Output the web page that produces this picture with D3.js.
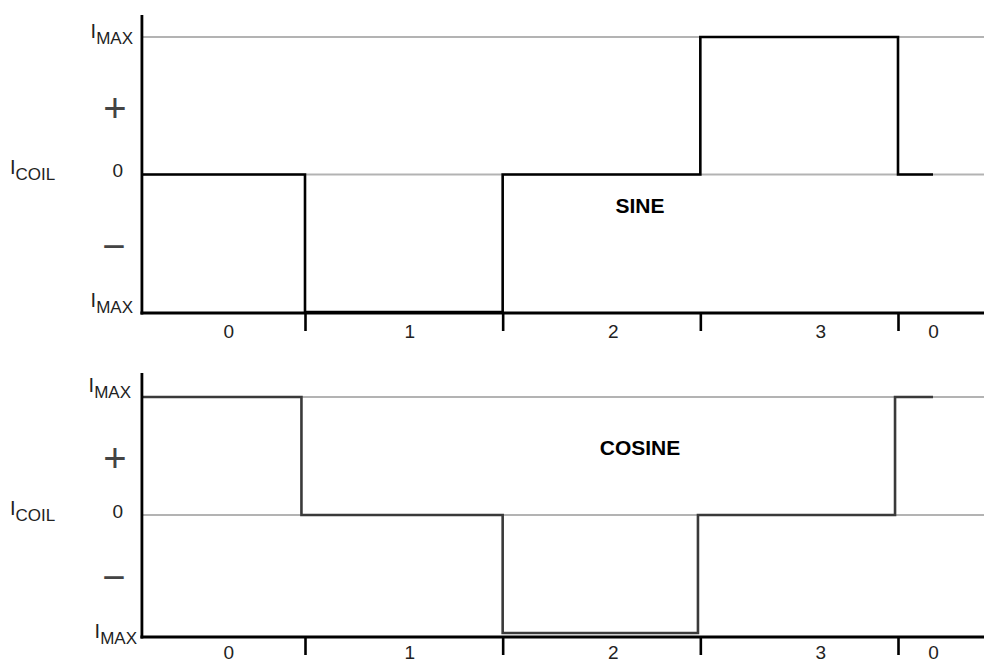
<!DOCTYPE html>
<html>
<head>
<meta charset="utf-8">
<script src="https://cdn.jsdelivr.net/npm/d3@7"></script>
<style>
  body { margin: 0; background: #fff; }
  svg text { font-family: "Liberation Sans", Arial, sans-serif; }
</style>
</head>
<body>
<svg id="chart" width="984" height="662"></svg>
<script>
// step boundaries (in step units) and the step numbers written under the axis
var boundaries = [1, 2, 3, 4];
var stepLabels = ["0", "1", "2", "3", "0"];
var stepLabelPos = [0.615, 1.53, 2.56, 3.61, 4.18];

// coil current, [position, level] with level in units of IMAX
var sineSteps = [[0.175, 0], [1, -1], [2, 0], [3, 1], [4, 0], [4.177, 0]];
var cosineSteps = [[0.175, 1], [0.982, 0], [2, -1], [2.988, 0], [3.985, 1], [4.177, 1]];

var gridLevels = [1, 0];

var W = 984;
var svg = d3.select("#chart");

var x = d3.scaleLinear().domain([1, 4]).range([305, 898]);

var panels = [
  { name: "SINE", data: sineSteps, color: "#000", range: [312, 37], axisY: 313, axisTop: 15,
    imaxTop: 1, imaxBot: -5, imaxBotX: 133, imaxTopX: 133, titleY: 213, labelDy: 25 },
  { name: "COSINE", data: cosineSteps, color: "#3a3a3a", range: [633, 397], axisY: 637, axisTop: 373,
    imaxTop: -5, imaxBot: 5, imaxBotX: 137, imaxTopX: 131, titleY: 455, labelDy: 22 }
];

panels.forEach(function(p) {
  var y = d3.scaleLinear().domain([-1, 1]).range(p.range);
  var g = svg.append("g");

  // grid lines at +IMAX and 0
  g.selectAll("line.grid")
    .data(gridLevels).enter()
    .append("line")
      .attr("class", "grid")
      .attr("x1", x(0.175)).attr("x2", W)
      .attr("y1", function(d) { return y(d); })
      .attr("y2", function(d) { return y(d); })
      .attr("stroke", "#b3b3b3")
      .attr("stroke-width", 2);

  // waveform
  var line = d3.line()
    .x(function(d) { return x(d[0]); })
    .y(function(d) { return y(d[1]); })
    .curve(d3.curveStepAfter);
  g.append("path")
    .datum(p.data)
    .attr("d", line)
    .attr("fill", "none")
    .attr("stroke", p.color)
    .attr("stroke-width", 2.6);

  // x axis: ticks only, the domain line drawn by hand
  var xAxis = d3.axisBottom(x).tickValues(boundaries).tickSize(18).tickFormat("");
  var ax = g.append("g")
    .attr("transform", "translate(0," + p.axisY + ")")
    .call(xAxis);
  ax.select(".domain").remove();
  ax.selectAll(".tick line").attr("stroke", "#000").attr("stroke-width", 2.6);

  g.append("line")
    .attr("x1", x(0.175) - 1.5).attr("x2", W)
    .attr("y1", p.axisY).attr("y2", p.axisY)
    .attr("stroke", "#000").attr("stroke-width", 3);

  // y axis line
  g.append("line")
    .attr("x1", x(0.175)).attr("x2", x(0.175))
    .attr("y1", p.axisTop).attr("y2", p.axisY + 1.5)
    .attr("stroke", "#000").attr("stroke-width", 2.8);

  // step numbers
  g.selectAll("text.step")
    .data(stepLabels).enter()
    .append("text")
      .attr("class", "step")
      .attr("x", function(d, i) { return x(stepLabelPos[i]); })
      .attr("y", p.axisY + p.labelDy)
      .attr("text-anchor", "middle")
      .attr("font-size", 19)
      .attr("fill", "#222")
      .text(function(d) { return d; });

  // y labels
  var imax = function(xp, yp) {
    var t = g.append("text")
      .attr("x", xp).attr("y", yp)
      .attr("text-anchor", "end")
      .attr("fill", "#222");
    t.append("tspan").attr("font-size", 20).text("I");
    t.append("tspan").attr("font-size", 17).attr("dy", 5.5).text("MAX");
  };
  imax(p.imaxTopX, y(1) + p.imaxTop);
  imax(p.imaxBotX, y(-1) + p.imaxBot);

  g.append("text")
    .attr("x", 123).attr("y", y(0) + 2.5)
    .attr("text-anchor", "end")
    .attr("font-size", 19)
    .attr("fill", "#222")
    .text("0");

  g.append("text")
    .attr("x", 115).attr("y", (y(1) + y(0)) / 2 + 2)
    .attr("text-anchor", "middle")
    .attr("dominant-baseline", "central")
    .attr("font-size", 40)
    .attr("fill", "#444")
    .text("+");
  g.append("text")
    .attr("x", 114).attr("y", (y(0) + y(-1)) / 2 + 3)
    .attr("text-anchor", "middle")
    .attr("dominant-baseline", "central")
    .attr("font-size", 40)
    .attr("fill", "#444")
    .text("\u2212");

  var coil = g.append("text")
    .attr("x", 10).attr("y", y(0) - 0.5)
    .attr("fill", "#222");
  coil.append("tspan").attr("font-size", 20).text("I");
  coil.append("tspan").attr("font-size", 17).attr("dy", 6).text("COIL");

  // waveform name
  g.append("text")
    .attr("x", 640).attr("y", p.titleY)
    .attr("text-anchor", "middle")
    .attr("font-size", 21)
    .attr("font-weight", "bold")
    .attr("fill", "#000")
    .text(p.name);
});
</script>
</body>
</html>
